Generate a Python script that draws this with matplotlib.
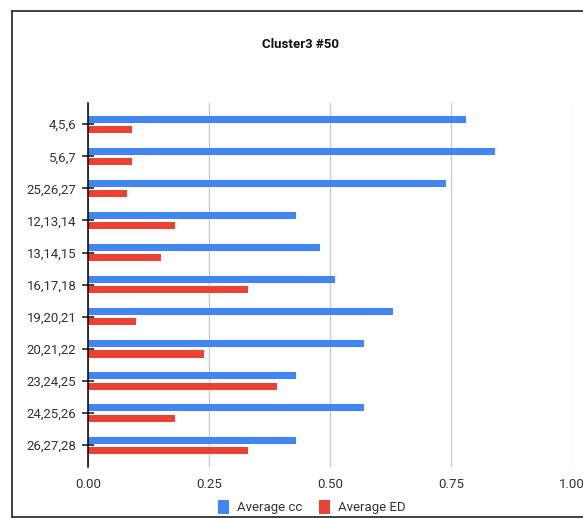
import numpy as np
import matplotlib.pyplot as plt
from matplotlib.lines import Line2D

plt.rcParams['font.family'] = ['Roboto', 'DejaVu Sans']

categories = ['4,5,6', '5,6,7', '25,26,27', '12,13,14', '13,14,15', '16,17,18',
              '19,20,21', '20,21,22', '23,24,25', '24,25,26', '26,27,28']
avg_cc = [0.78, 0.84, 0.74, 0.43, 0.48, 0.51, 0.63, 0.57, 0.43, 0.57, 0.43]
avg_ed = [0.09, 0.09, 0.08, 0.18, 0.15, 0.33, 0.10, 0.24, 0.39, 0.18, 0.33]
xticks = [0.0, 0.25, 0.5, 0.75, 1.0]

blue = '#4285F4'
red = '#EA4335'

fig = plt.figure(figsize=(5.83, 5.18), dpi=100)
ax = fig.add_axes([88 / 583, 51 / 518, 484 / 583, 364 / 518])

y = np.arange(len(categories))
h = 0.22
ax.barh(y - 0.16, avg_cc, height=h, color=blue, label='Average cc', zorder=3)
ax.barh(y + 0.16, avg_ed, height=h, color=red, label='Average ED', zorder=3)

ax.set_ylim(len(categories) - 0.32, -0.66)
ax.set_xlim(0, 1.0)
ax.set_yticks(y)
ax.set_yticklabels(categories)
ax.set_xticks(xticks)
ax.set_xticklabels(['%.2f' % t for t in xticks])

ax.tick_params(axis='y', direction='inout', length=8.6, width=1.2, color='#222222',
               pad=4, labelsize=9.5, labelcolor='#333333')
ax.tick_params(axis='x', length=0, pad=8, labelsize=9.5, labelcolor='#333333')

ax.grid(axis='x', color='#cccccc', linewidth=1, zorder=0)
for s in ['top', 'right', 'bottom']:
    ax.spines[s].set_visible(False)
ax.spines['left'].set_color('black')
ax.spines['left'].set_linewidth(1.1)
ax.spines['left'].set_zorder(4)

fig.text(300 / 583, 1 - 45 / 518, 'Cluster3 #50', ha='center', va='center',
         fontsize=9.5, fontweight='bold', color='#111111')

fig.legend(loc='center', bbox_to_anchor=(312 / 583, 1 - 507 / 518), ncol=2,
           frameon=False, fontsize=9.5, handlelength=0.8, handleheight=1.3,
           handletextpad=0.6, columnspacing=1.3, labelcolor='#333333')

# outer frame
for xs, ys in [([11.5, 11.5], [10.5, 517]), ([11.5, 583], [10.5, 10.5]),
               ([11.5, 583], [517, 517])]:
    fig.add_artist(Line2D([x / 583 for x in xs], [1 - v / 518 for v in ys],
                          color='#333333', linewidth=1.3))

fig.savefig('out.png', dpi=100)
